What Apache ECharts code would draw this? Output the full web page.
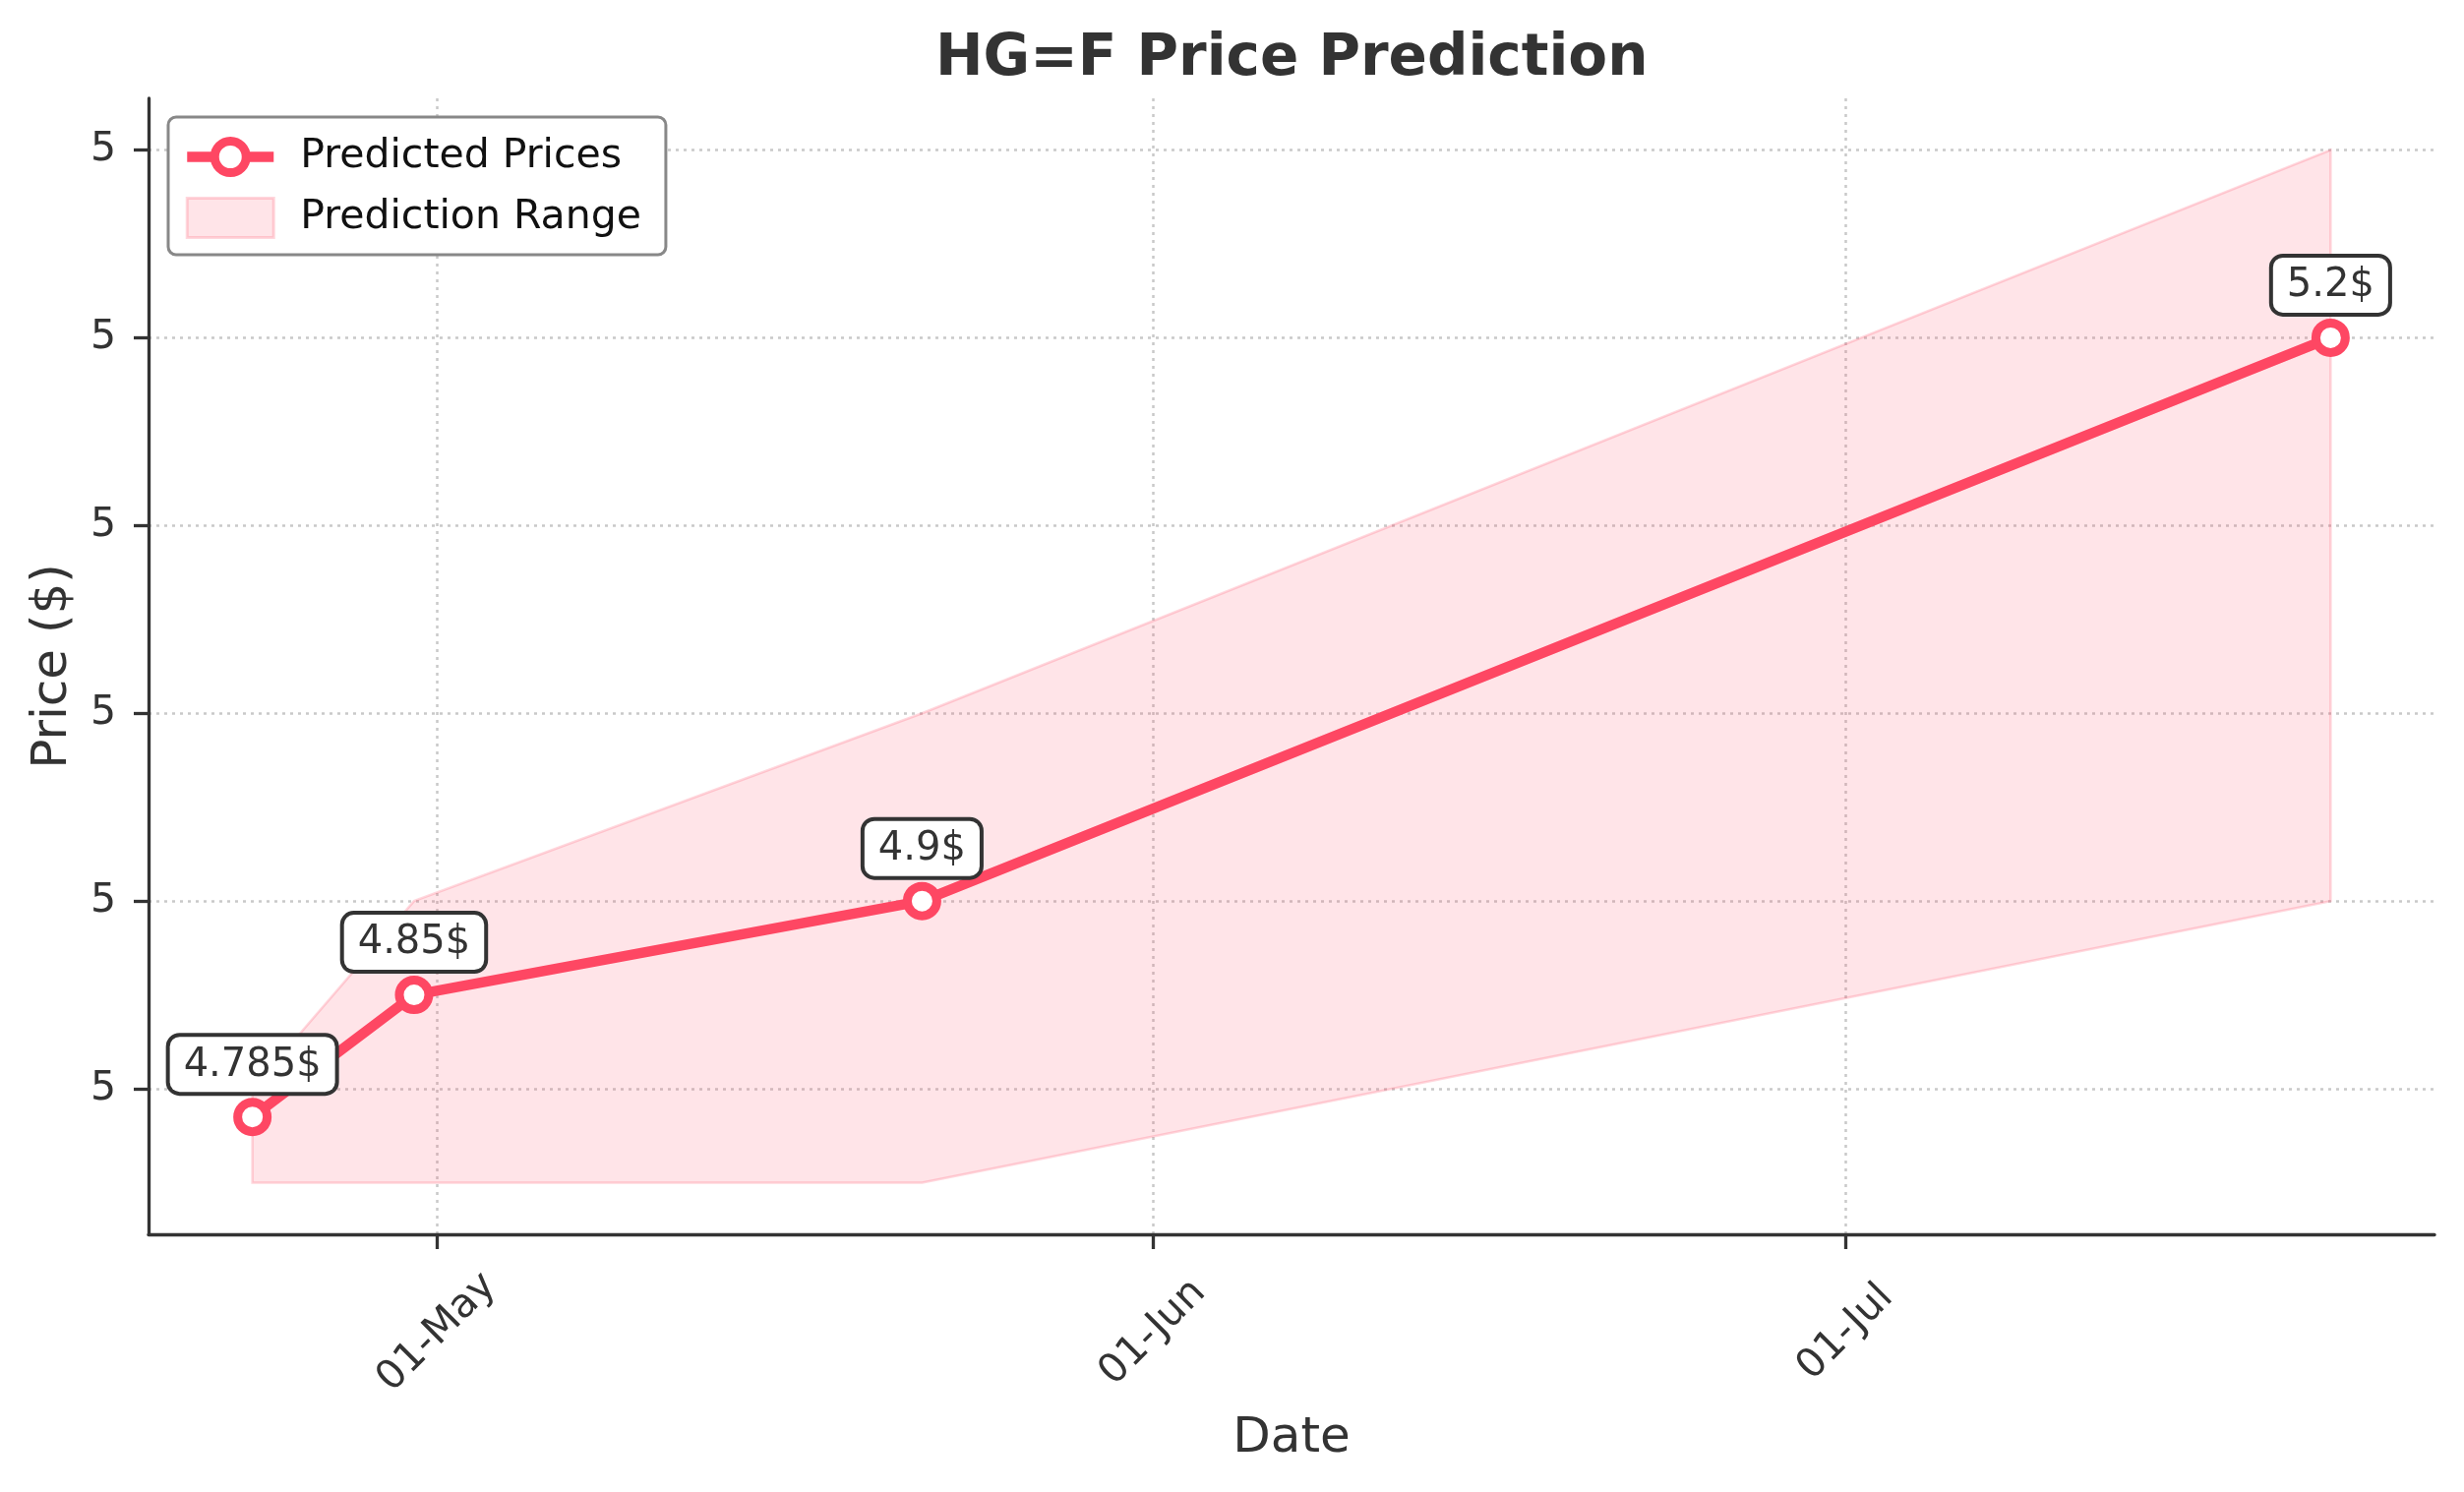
<!DOCTYPE html>
<html>
<head>
<meta charset="utf-8">
<title>HG=F Price Prediction</title>
<script src="https://cdn.jsdelivr.net/npm/echarts@6/dist/echarts.min.js"></script>
<style>
  html, body { margin: 0; padding: 0; background: #fff; }
  #chart { width: 2505px; height: 1517px; }
</style>
</head>
<body>
<div id="chart"></div>
<script>
// prediction data
var dates = ['2024-04-23', '2024-04-30', '2024-05-22', '2024-07-22'];
var predicted = [4.785, 4.85, 4.9, 5.2];
var upperBound = [4.8, 4.9, 5.0, 5.3];
var lowerBound = [4.75, 4.75, 4.75, 4.9];

// tick positions
var xTicks = ['2024-05-01', '2024-06-01', '2024-07-01'];
var yTicks = [4.8, 4.9, 5.0, 5.1, 5.2, 5.3];
var monthNames = ['Jan', 'Feb', 'Mar', 'Apr', 'May', 'Jun', 'Jul', 'Aug', 'Sep', 'Oct', 'Nov', 'Dec'];

var lineColor = '#fe4763';
var fillColor = 'rgba(254, 71, 99, 0.15)';
var edgeColor = 'rgba(254, 71, 99, 0.22)';
var font = 'DejaVu Sans';

function toTime(s) {
    var p = s.split('-');
    return Date.UTC(+p[0], +p[1] - 1, +p[2]);
}

var times = dates.map(toTime);
var xTickTimes = xTicks.map(toTime);

// matplotlib style 5% margins
var tSpan = times[times.length - 1] - times[0];
var xMin = times[0] - tSpan * 0.05;
var xMax = times[times.length - 1] + tSpan * 0.05;
var yLo = Math.min.apply(null, lowerBound.concat(predicted));
var yHi = Math.max.apply(null, upperBound.concat(predicted));
var yMin = yLo - (yHi - yLo) * 0.05;
var yMax = yHi + (yHi - yLo) * 0.05;

var lineData = [];
for (var i = 0; i < times.length; i++) {
    lineData.push([times[i], predicted[i]]);
}

// band polygon: upper edge forward, lower edge backward
function renderBand(params, api) {
    var pts = [];
    for (var j = 0; j < times.length; j++) {
        pts.push(api.coord([times[j], upperBound[j]]));
    }
    for (var k = times.length - 1; k >= 0; k--) {
        pts.push(api.coord([times[k], lowerBound[k]]));
    }
    return {
        type: 'polygon',
        shape: { points: pts },
        style: { fill: fillColor, stroke: edgeColor, lineWidth: 2.5 }
    };
}

var chart = echarts.init(document.getElementById('chart'));

var gridLine = { show: true, lineStyle: { color: '#c9c9c9', width: 2.5, type: [3, 5] } };

var option = {
    animation: false,
    backgroundColor: '#fff',
    title: {
        text: 'HG=F Price Prediction',
        left: 951,
        top: 32,
        padding: 0,
        textStyle: { fontFamily: font, fontSize: 58, fontWeight: 'bold', color: '#333' }
    },
    legend: {
        orient: 'vertical',
        left: 171,
        top: 119,
        padding: [20, 25, 16, 14],
        backgroundColor: '#fff',
        borderColor: '#888',
        borderWidth: 3,
        borderRadius: 8,
        itemWidth: 88,
        itemHeight: 40,
        itemGap: 20,
        textStyle: { fontFamily: font, fontSize: 41, color: '#111', padding: [0, 0, 0, 22] },
        data: [
            { name: 'Predicted Prices',
              lineStyle: { color: lineColor, width: 10.5 },
              itemStyle: { color: '#fff', borderColor: lineColor, borderWidth: 9 } },
            { name: 'Prediction Range', icon: 'rect',
              itemStyle: { color: fillColor, borderColor: edgeColor, borderWidth: 3 } }
        ]
    },
    grid: { left: 151, right: 30, top: 100, bottom: 262 },
    xAxis: {
        type: 'value',
        min: xMin,
        max: xMax,
        name: 'Date',
        nameLocation: 'middle',
        nameGap: 183,
        nameTextStyle: { fontFamily: font, fontSize: 50, color: '#333' },
        axisLine: { show: true, lineStyle: { color: '#333', width: 3.3 } },
        axisTick: { show: true, length: 15, customValues: xTickTimes, lineStyle: { color: '#333', width: 3.3 } },
        axisLabel: {
            customValues: xTickTimes,
            rotate: 45,
            align: 'center',
            verticalAlign: 'middle',
            margin: 100,
            fontFamily: font,
            fontSize: 41,
            color: '#333',
            formatter: function (v) {
                var d = new Date(v);
                var day = d.getUTCDate();
                return (day < 10 ? '0' + day : '' + day) + '-' + monthNames[d.getUTCMonth()];
            }
        },
        splitLine: gridLine
    },
    yAxis: {
        type: 'value',
        min: yMin,
        max: yMax,
        name: 'Price ($)',
        nameLocation: 'middle',
        nameGap: 72,
        nameTextStyle: { fontFamily: font, fontSize: 50, color: '#333' },
        axisLine: { show: true, lineStyle: { color: '#333', width: 3.3 } },
        axisTick: { show: true, length: 15, customValues: yTicks, lineStyle: { color: '#333', width: 3.3 } },
        axisLabel: {
            customValues: yTicks,
            margin: 33,
            fontFamily: font,
            fontSize: 41,
            color: '#333',
            formatter: function (v) { return v.toFixed(0); }
        },
        splitLine: gridLine
    },
    series: [
        {
            name: 'Prediction Range',
            type: 'custom',
            renderItem: renderBand,
            data: [[times[0], lowerBound[0]]],
            silent: true,
            itemStyle: { color: fillColor },
            z: 1
        },
        {
            name: 'Predicted Prices',
            type: 'line',
            data: lineData,
            symbol: 'circle',
            symbolSize: 30,
            lineStyle: { color: lineColor, width: 10.5 },
            itemStyle: { color: '#fff', borderColor: lineColor, borderWidth: 9 },
            label: {
                show: true,
                position: 'top',
                distance: 6,
                formatter: function (p) { return p.value[1] + '$'; },
                fontFamily: font,
                fontSize: 40,
                color: '#333',
                backgroundColor: '#fff',
                borderColor: '#333',
                borderWidth: 4,
                borderRadius: 10,
                padding: [9, 14, 7, 14]
            },
            z: 3
        }
    ]
};

chart.setOption(option);
</script>
</body>
</html>
